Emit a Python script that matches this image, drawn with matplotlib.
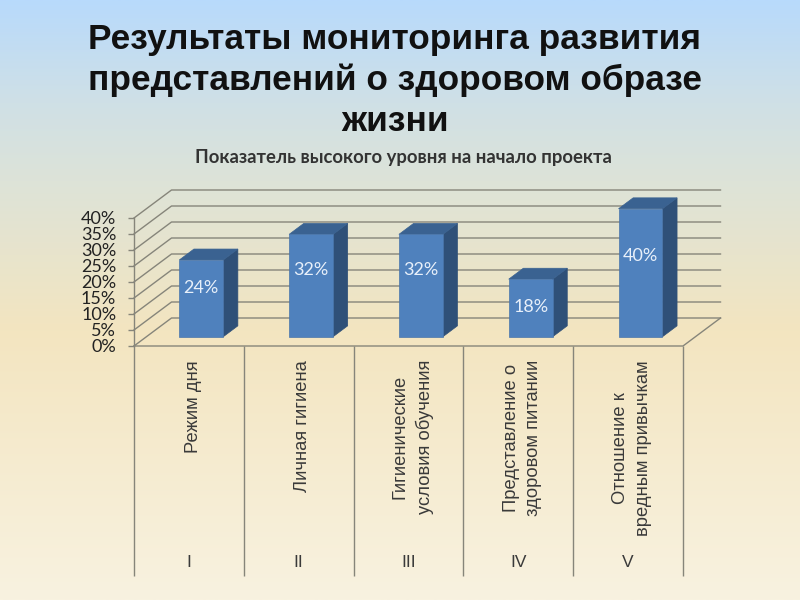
import numpy as np
import matplotlib
matplotlib.use('Agg')
from matplotlib import pyplot as plt
from matplotlib.colors import LinearSegmentedColormap
from matplotlib.patches import Polygon

categories = ['Режим дня', 'Личная гигиена', 'Гигиенические\nусловия обучения',
              'Представление о\nздоровом питании', 'Отношение к\nвредным привычкам']
numerals = ['I', 'II', 'III', 'IV', 'V']
values = [24, 32, 32, 18, 40]
yticks = [0, 5, 10, 15, 20, 25, 30, 35, 40]

title = 'Результаты мониторинга развития\nпредставлений о здоровом образе\nжизни'
subtitle = 'Показатель высокого уровня на начало проекта'

# oblique depth of the 3d box, in data units per unit of depth
DX = 37.5 / 109.8
DY = 28 / 3.2
BAR_W = 0.40
D0, D1 = 0.33, 0.72
LABEL_FRAC = [0.64, 0.65, 0.65, 0.52, 0.63]
GRID = '#86857a'
sans = ['Liberation Sans', 'DejaVu Sans']
calibri = ['Lato', 'Open Sans', 'DejaVu Sans']


def proj(x, y, d):
    return x + d * DX, y + d * DY


fig = plt.figure(figsize=(8, 6), dpi=100)

# background gradient
bg = fig.add_axes([0, 0, 1, 1], zorder=0)
cmap = LinearSegmentedColormap.from_list('bg', [(0, '#b8dafc'), (0.17, '#cfe0e6'), (0.3, '#dde3d8'),
                                                (0.55, '#f3e5c0'), (1, '#f8f2e0')])
bg.imshow(np.linspace(0, 1, 256).reshape(-1, 1), aspect='auto', cmap=cmap)
bg.axis('off')

ax = fig.add_axes([134 / 800, 254 / 600, 549 / 800, 128 / 600], zorder=1)
ax.patch.set_alpha(0)
ax.set_xlim(0, 5)
ax.set_ylim(0, 40)
for s in ['top', 'right', 'bottom']:
    ax.spines[s].set_visible(False)
ax.spines['left'].set_color(GRID)
ax.spines['left'].set_linewidth(1)
ax.set_xticks([])
ax.set_yticks(yticks)
ax.set_yticklabels(['%d%%' % t for t in yticks], family=calibri, fontsize=13, color='#222222')
ax.tick_params(axis='y', length=4.3, width=1, color=GRID, pad=8.5)

# back wall and side wall grid
for t in yticks:
    x0, y0 = proj(0, t, 0)
    x1, y1 = proj(0, t, 1)
    x2, y2 = proj(5, t, 1)
    ax.plot([x0, x1, x2], [y0, y1, y2], color=GRID, lw=1, clip_on=False, zorder=1)

# floor edge
xf, yf = proj(5, 0, 1)
ax.plot([0, 5, xf], [0, 0, yf], color=GRID, lw=1, clip_on=False, zorder=1)

# bars
for i, v in enumerate(values):
    l = i + 0.5 - BAR_W / 2
    r = i + 0.5 + BAR_W / 2
    front = [proj(l, 0, D0), proj(r, 0, D0), proj(r, v, D0), proj(l, v, D0)]
    side = [proj(r, 0, D0), proj(r, 0, D1), proj(r, v, D1), proj(r, v, D0)]
    top = [proj(l, v, D0), proj(r, v, D0), proj(r, v, D1), proj(l, v, D1)]
    ax.add_patch(Polygon(side, fc='#2f5078', ec='#2f5078', lw=0.5, clip_on=False, zorder=3))
    ax.add_patch(Polygon(top, fc='#3a6291', ec='#3a6291', lw=0.5, clip_on=False, zorder=3))
    ax.add_patch(Polygon(front, fc='#4f81bd', ec='#4a76ab', lw=0.5, clip_on=False, zorder=4))
    cx, cy = proj(i + 0.5, v * LABEL_FRAC[i], D0)
    ax.text(cx, cy, '%d%%' % v, color='#e8f0fa', fontsize=13, family=calibri,
            ha='center', va='center', zorder=5)

# category table under the chart
ax.vlines(range(6), -72, 0, color=GRID, lw=1, clip_on=False)
for i, name in enumerate(categories):
    ax.annotate(name, xy=(i + 0.5, 0), xytext=(3, -10), textcoords='offset points',
                rotation=90, ha='center', va='top', multialignment='center',
                family=sans, fontsize=13.2, color='#3a3a3a', linespacing=1.45,
                annotation_clip=False)
    ax.annotate(numerals[i], xy=(i + 0.5, 0), xytext=(0, -156), textcoords='offset points',
                ha='center', va='center', family=sans, fontsize=12.5, color='#3a3a3a',
                annotation_clip=False)

fig.text(395 / 800, 1 - 80.5 / 600, title, ha='center', va='center', family=sans,
         fontweight='bold', fontsize=25.4, color='#111111', linespacing=1.3)
fig.text(403 / 800, 1 - 157 / 600, subtitle, ha='center', va='center', family=calibri,
         fontweight='bold', fontsize=13.3, color='#333333')

fig.savefig('out.png', dpi=100)
